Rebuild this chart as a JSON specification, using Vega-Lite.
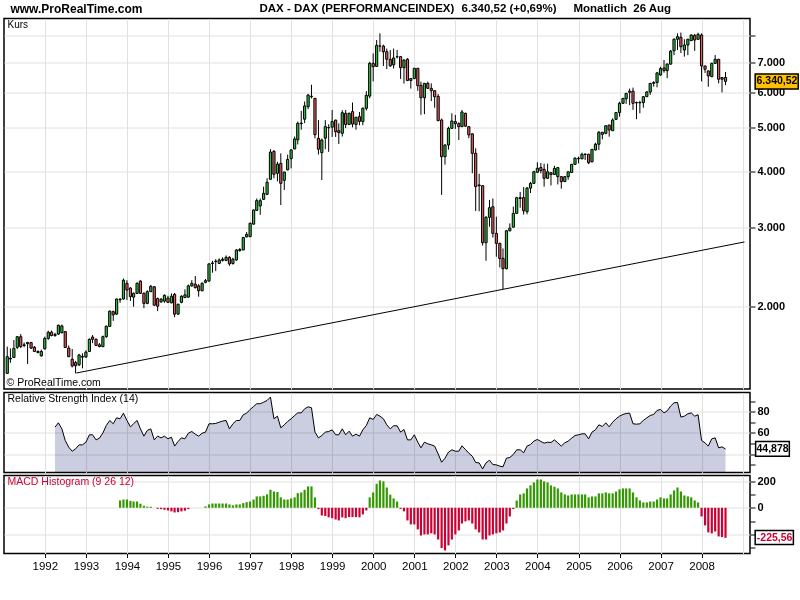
{"$schema":"https://vega.github.io/schema/vega-lite/v6.json","background":"white","padding":{"left":3,"top":1.5,"right":0,"bottom":0},"spacing":3,"bounds":"flush","config":{"font":"Liberation Sans","view":{"stroke":"black","strokeWidth":1.5},"axis":{"gridColor":"#e0e0e0","gridWidth":1,"tickColor":"black","domain":false,"labelColor":"black","title":null}},
"datasets":{"m":[
{"date":"1991-02-01","open":1421,"high":1630,"low":1421,"close":1548},
{"date":"1991-03-01","open":1530,"high":1615,"low":1500,"close":1535},
{"date":"1991-04-01","open":1542,"high":1686,"low":1540,"close":1615},
{"date":"1991-05-01","open":1624,"high":1720,"low":1610,"close":1715},
{"date":"1991-06-01","open":1715,"high":1738,"low":1618,"close":1630},
{"date":"1991-07-01","open":1640,"high":1665,"low":1625,"close":1645},
{"date":"1991-08-01","open":1655,"high":1670,"low":1492,"close":1665},
{"date":"1991-09-01","open":1664,"high":1670,"low":1610,"close":1618},
{"date":"1991-10-01","open":1625,"high":1635,"low":1585,"close":1590},
{"date":"1991-11-01","open":1590,"high":1600,"low":1575,"close":1582},
{"date":"1991-12-01","open":1555,"high":1605,"low":1548,"close":1590},
{"date":"1992-01-01","open":1612,"high":1715,"low":1605,"close":1700},
{"date":"1992-02-01","open":1700,"high":1768,"low":1688,"close":1755},
{"date":"1992-03-01","open":1755,"high":1770,"low":1718,"close":1725},
{"date":"1992-04-01","open":1725,"high":1750,"low":1715,"close":1735,"rsi":65.5},
{"date":"1992-05-01","open":1738,"high":1825,"low":1730,"close":1818,"rsi":69.6},
{"date":"1992-06-01","open":1750,"high":1825,"low":1745,"close":1812,"rsi":63.9},
{"date":"1992-07-01","open":1760,"high":1765,"low":1620,"close":1623,"rsi":52.9},
{"date":"1992-08-01","open":1618,"high":1640,"low":1545,"close":1548,"rsi":46.6},
{"date":"1992-09-01","open":1528,"high":1610,"low":1465,"close":1476,"rsi":42.8},
{"date":"1992-10-01","open":1502,"high":1515,"low":1421,"close":1478,"rsi":45},
{"date":"1992-11-01","open":1485,"high":1570,"low":1475,"close":1562,"rsi":48.8},
{"date":"1992-12-01","open":1545,"high":1575,"low":1458,"close":1550,"rsi":48.8},
{"date":"1993-01-01","open":1545,"high":1600,"low":1540,"close":1585,"rsi":51.3},
{"date":"1993-02-01","open":1590,"high":1700,"low":1588,"close":1692,"rsi":58.3},
{"date":"1993-03-01","open":1712,"high":1730,"low":1660,"close":1692,"rsi":58.3},
{"date":"1993-04-01","open":1692,"high":1700,"low":1635,"close":1640,"rsi":53.5},
{"date":"1993-05-01","open":1645,"high":1660,"low":1625,"close":1630,"rsi":55.1},
{"date":"1993-06-01","open":1630,"high":1725,"low":1625,"close":1715,"rsi":60},
{"date":"1993-07-01","open":1715,"high":1815,"low":1705,"close":1810,"rsi":67},
{"date":"1993-08-01","open":1808,"high":1960,"low":1805,"close":1955,"rsi":71.8},
{"date":"1993-09-01","open":1950,"high":1960,"low":1860,"close":1918,"rsi":68.7},
{"date":"1993-10-01","open":1925,"high":2085,"low":1920,"close":2080,"rsi":74.3},
{"date":"1993-11-01","open":2072,"high":2090,"low":2040,"close":2078,"rsi":73.4,"macd":55},
{"date":"1993-12-01","open":2080,"high":2310,"low":2075,"close":2290,"rsi":78.7,"macd":62},
{"date":"1994-01-01","open":2254,"high":2290,"low":2070,"close":2178,"rsi":71.8,"macd":62},
{"date":"1994-02-01","open":2200,"high":2210,"low":2060,"close":2105,"rsi":65.8,"macd":52},
{"date":"1994-03-01","open":2100,"high":2150,"low":2000,"close":2142,"rsi":68.7,"macd":47},
{"date":"1994-04-01","open":2140,"high":2265,"low":2135,"close":2254,"rsi":71.8,"macd":47},
{"date":"1994-05-01","open":2280,"high":2290,"low":2135,"close":2142,"rsi":63.9,"macd":30},
{"date":"1994-06-01","open":2142,"high":2150,"low":1985,"close":2034,"rsi":57,"macd":15},
{"date":"1994-07-01","open":2034,"high":2175,"low":2025,"close":2160,"rsi":62.4,"macd":8},
{"date":"1994-08-01","open":2160,"high":2235,"low":2155,"close":2220,"rsi":63.9,"macd":8},
{"date":"1994-09-01","open":2215,"high":2220,"low":2010,"close":2015,"rsi":53.5},
{"date":"1994-10-01","open":2085,"high":2095,"low":1955,"close":2005,"rsi":57,"macd":-8},
{"date":"1994-11-01","open":2050,"high":2090,"low":2040,"close":2078,"rsi":55.4,"macd":-10},
{"date":"1994-12-01","open":2058,"high":2130,"low":2040,"close":2120,"rsi":57,"macd":-15},
{"date":"1995-01-01","open":2090,"high":2115,"low":2040,"close":2045,"rsi":54.5,"macd":-20},
{"date":"1995-02-01","open":2040,"high":2140,"low":2035,"close":2110,"rsi":56,"macd":-27},
{"date":"1995-03-01","open":2130,"high":2145,"low":1895,"close":1925,"rsi":47.6,"macd":-35},
{"date":"1995-04-01","open":1925,"high":2030,"low":1920,"close":2025,"rsi":52,"macd":-33},
{"date":"1995-05-01","open":2045,"high":2120,"low":2035,"close":2110,"rsi":55.4,"macd":-27},
{"date":"1995-06-01","open":2095,"high":2185,"low":2090,"close":2125,"rsi":54.5,"macd":-22},
{"date":"1995-07-01","open":2100,"high":2240,"low":2095,"close":2225,"rsi":59.8,"macd":-10},
{"date":"1995-08-01","open":2225,"high":2290,"low":2215,"close":2254,"rsi":61.4},
{"date":"1995-09-01","open":2245,"high":2340,"low":2195,"close":2205,"rsi":58.9},
{"date":"1995-10-01","open":2225,"high":2245,"low":2105,"close":2170,"rsi":57},
{"date":"1995-11-01","open":2170,"high":2265,"low":2165,"close":2254,"rsi":59.8},
{"date":"1995-12-01","open":2265,"high":2305,"low":2255,"close":2285,"rsi":60.8,"macd":10},
{"date":"1996-01-01","open":2280,"high":2495,"low":2275,"close":2490,"rsi":68.7,"macd":25},
{"date":"1996-02-01","open":2495,"high":2530,"low":2380,"close":2502,"rsi":68.7,"macd":32},
{"date":"1996-03-01","open":2520,"high":2550,"low":2400,"close":2525,"rsi":69,"macd":32},
{"date":"1996-04-01","open":2497,"high":2560,"low":2490,"close":2540,"rsi":70.2,"macd":32},
{"date":"1996-05-01","open":2535,"high":2575,"low":2520,"close":2550,"rsi":71.2,"macd":32},
{"date":"1996-06-01","open":2535,"high":2600,"low":2525,"close":2575,"rsi":71.8,"macd":32},
{"date":"1996-07-01","open":2575,"high":2590,"low":2465,"close":2490,"rsi":63.9,"macd":25},
{"date":"1996-08-01","open":2495,"high":2570,"low":2480,"close":2550,"rsi":68.7,"macd":18},
{"date":"1996-09-01","open":2540,"high":2685,"low":2530,"close":2674,"rsi":71.8,"macd":25},
{"date":"1996-10-01","open":2665,"high":2700,"low":2650,"close":2680,"rsi":71.8,"macd":25},
{"date":"1996-11-01","open":2675,"high":2860,"low":2670,"close":2850,"rsi":77.2,"macd":35},
{"date":"1996-12-01","open":2860,"high":2930,"low":2850,"close":2895,"rsi":78.7,"macd":42},
{"date":"1997-01-01","open":2863,"high":3075,"low":2855,"close":3066,"rsi":82.2,"macd":47},
{"date":"1997-02-01","open":3052,"high":3290,"low":3045,"close":3281,"rsi":85,"macd":62},
{"date":"1997-03-01","open":3275,"high":3480,"low":3270,"close":3442,"rsi":87.6,"macd":85},
{"date":"1997-04-01","open":3350,"high":3480,"low":3200,"close":3442,"rsi":87.6,"macd":85},
{"date":"1997-05-01","open":3465,"high":3697,"low":3455,"close":3573,"rsi":89,"macd":90},
{"date":"1997-06-01","open":3555,"high":3860,"low":3545,"close":3782,"rsi":90.7,"macd":100},
{"date":"1997-07-01","open":3840,"high":4480,"low":3835,"close":4415,"rsi":93.9,"macd":135},
{"date":"1997-08-01","open":4430,"high":4460,"low":3860,"close":3940,"rsi":73.4,"macd":122},
{"date":"1997-09-01","open":3959,"high":4200,"low":3800,"close":4150,"rsi":75.9,"macd":118},
{"date":"1997-10-01","open":4166,"high":4385,"low":3365,"close":3761,"rsi":64.9,"macd":78},
{"date":"1997-11-01","open":3820,"high":3990,"low":3635,"close":3985,"rsi":67.7,"macd":62},
{"date":"1997-12-01","open":4030,"high":4355,"low":4020,"close":4250,"rsi":70.9,"macd":62},
{"date":"1998-01-01","open":4268,"high":4480,"low":4060,"close":4462,"rsi":73.4,"macd":70},
{"date":"1998-02-01","open":4485,"high":4780,"low":4480,"close":4720,"rsi":76.5,"macd":78},
{"date":"1998-03-01","open":4700,"high":5160,"low":4590,"close":5114,"rsi":79,"macd":110},
{"date":"1998-04-01","open":5105,"high":5450,"low":4950,"close":5120,"rsi":79,"macd":115},
{"date":"1998-05-01","open":5225,"high":5720,"low":5120,"close":5590,"rsi":82.8,"macd":135},
{"date":"1998-06-01","open":5570,"high":5945,"low":5500,"close":5910,"rsi":84.7,"macd":160},
{"date":"1998-07-01","open":5875,"high":6230,"low":5810,"close":5860,"rsi":83.8,"macd":160},
{"date":"1998-08-01","open":5810,"high":5830,"low":4735,"close":4825,"rsi":60.8,"macd":78},
{"date":"1998-09-01","open":4735,"high":5200,"low":4360,"close":4480,"rsi":55.4,"macd":-10},
{"date":"1998-10-01","open":4400,"high":4730,"low":3827,"close":4696,"rsi":57.6,"macd":-58},
{"date":"1998-11-01","open":4740,"high":5200,"low":4480,"close":5028,"rsi":60.8,"macd":-62},
{"date":"1998-12-01","open":5000,"high":5090,"low":4420,"close":5005,"rsi":61.4,"macd":-72},
{"date":"1999-01-01","open":5015,"high":5476,"low":4770,"close":5160,"rsi":63,"macd":-78},
{"date":"1999-02-01","open":5200,"high":5210,"low":4770,"close":4900,"rsi":58.3,"macd":-88},
{"date":"1999-03-01","open":4925,"high":5114,"low":4600,"close":4875,"rsi":58.3,"macd":-95},
{"date":"1999-04-01","open":4860,"high":5470,"low":4780,"close":5400,"rsi":63.9,"macd":-72},
{"date":"1999-05-01","open":5383,"high":5476,"low":4990,"close":5085,"rsi":58.3,"macd":-78},
{"date":"1999-06-01","open":5085,"high":5400,"low":5075,"close":5383,"rsi":61.7,"macd":-70},
{"date":"1999-07-01","open":5430,"high":5690,"low":5010,"close":5095,"rsi":57,"macd":-70},
{"date":"1999-08-01","open":5085,"high":5285,"low":4950,"close":5275,"rsi":58.9,"macd":-70},
{"date":"1999-09-01","open":5292,"high":5420,"low":5065,"close":5165,"rsi":57,"macd":-72},
{"date":"1999-10-01","open":5160,"high":5550,"low":5065,"close":5523,"rsi":63,"macd":-50},
{"date":"1999-11-01","open":5523,"high":6030,"low":5460,"close":5900,"rsi":67,"macd":-20},
{"date":"1999-12-01","open":5880,"high":7010,"low":5815,"close":6953,"rsi":74.3,"macd":78},
{"date":"2000-01-01","open":6953,"high":7318,"low":6340,"close":6835,"rsi":72.8,"macd":115},
{"date":"2000-02-01","open":6845,"high":7835,"low":6830,"close":7625,"rsi":77.5,"macd":180},
{"date":"2000-03-01","open":7600,"high":8107,"low":7380,"close":7598,"rsi":75.9,"macd":205},
{"date":"2000-04-01","open":7598,"high":7650,"low":6860,"close":7380,"rsi":73.4,"macd":198},
{"date":"2000-05-01","open":7380,"high":7500,"low":6750,"close":7100,"rsi":67.7,"macd":152},
{"date":"2000-06-01","open":7098,"high":7445,"low":6830,"close":6865,"rsi":63.9,"macd":98},
{"date":"2000-07-01","open":6900,"high":7500,"low":6770,"close":7147,"rsi":66.8,"macd":70},
{"date":"2000-08-01","open":7195,"high":7445,"low":7130,"close":7190,"rsi":66.8,"macd":47},
{"date":"2000-09-01","open":7195,"high":7210,"low":6420,"close":6800,"rsi":60.8,"macd":-8},
{"date":"2000-10-01","open":6800,"high":7090,"low":6270,"close":7073,"rsi":63.3,"macd":-27},
{"date":"2000-11-01","open":7100,"high":7140,"low":6350,"close":6370,"rsi":53.5,"macd":-95},
{"date":"2000-12-01","open":6370,"high":6450,"low":6110,"close":6430,"rsi":53.5,"macd":-125},
{"date":"2001-01-01","open":6430,"high":6790,"low":6420,"close":6780,"rsi":58.3,"macd":-125},
{"date":"2001-02-01","open":6780,"high":6790,"low":6040,"close":6200,"rsi":51.3,"macd":-162},
{"date":"2001-03-01","open":6210,"high":6330,"low":5342,"close":5830,"rsi":46,"macd":-208},
{"date":"2001-04-01","open":5830,"high":6285,"low":5360,"close":6276,"rsi":51.3,"macd":-200},
{"date":"2001-05-01","open":6276,"high":6330,"low":6110,"close":6118,"rsi":49.8,"macd":-200},
{"date":"2001-06-01","open":6118,"high":6276,"low":5730,"close":6045,"rsi":48.8,"macd":-192},
{"date":"2001-07-01","open":6045,"high":6050,"low":5540,"close":5862,"rsi":47.6,"macd":-200},
{"date":"2001-08-01","open":5872,"high":5945,"low":5170,"close":5185,"rsi":40.3,"macd":-238},
{"date":"2001-09-01","open":5202,"high":5240,"low":3545,"close":4312,"rsi":32.4,"macd":-302},
{"date":"2001-10-01","open":4312,"high":4590,"low":4140,"close":4578,"rsi":36.2,"macd":-320},
{"date":"2001-11-01","open":4578,"high":5028,"low":4470,"close":4985,"rsi":41.9,"macd":-282},
{"date":"2001-12-01","open":4985,"high":5383,"low":4975,"close":5175,"rsi":44.1,"macd":-238},
{"date":"2002-01-01","open":5160,"high":5340,"low":4970,"close":5105,"rsi":42.8,"macd":-200},
{"date":"2002-02-01","open":5105,"high":5140,"low":4696,"close":5028,"rsi":42.8,"macd":-170},
{"date":"2002-03-01","open":5028,"high":5476,"low":5020,"close":5420,"rsi":47.9,"macd":-118},
{"date":"2002-04-01","open":5383,"high":5400,"low":5030,"close":5040,"rsi":44.4,"macd":-102},
{"date":"2002-05-01","open":5028,"high":5040,"low":4740,"close":4820,"rsi":40.9,"macd":-95},
{"date":"2002-06-01","open":4845,"high":4860,"low":3960,"close":4386,"rsi":38.1,"macd":-118},
{"date":"2002-07-01","open":4386,"high":4500,"low":3265,"close":3698,"rsi":32.1,"macd":-162},
{"date":"2002-08-01","open":3715,"high":3950,"low":3260,"close":3730,"rsi":31.8,"macd":-185},
{"date":"2002-09-01","open":3715,"high":3725,"low":2735,"close":2775,"rsi":26.1,"macd":-238},
{"date":"2002-10-01","open":2775,"high":3180,"low":2530,"close":3160,"rsi":31.8,"macd":-238},
{"date":"2002-11-01","open":3160,"high":3453,"low":3012,"close":3320,"rsi":34.3,"macd":-208},
{"date":"2002-12-01","open":3337,"high":3480,"low":2850,"close":2911,"rsi":30.2,"macd":-200},
{"date":"2003-01-01","open":2911,"high":3171,"low":2583,"close":2766,"rsi":29.9,"macd":-192},
{"date":"2003-02-01","open":2766,"high":2775,"low":2445,"close":2560,"rsi":28.7,"macd":-185},
{"date":"2003-03-01","open":2561,"high":2695,"low":2188,"close":2430,"rsi":28,"macd":-170},
{"date":"2003-04-01","open":2430,"high":2960,"low":2420,"close":2950,"rsi":36.2,"macd":-118},
{"date":"2003-05-01","open":2950,"high":3064,"low":2940,"close":2990,"rsi":36.9,"macd":-65},
{"date":"2003-06-01","open":3005,"high":3337,"low":3000,"close":3225,"rsi":39.7,"macd":-10},
{"date":"2003-07-01","open":3225,"high":3510,"low":3215,"close":3495,"rsi":44.1,"macd":55},
{"date":"2003-08-01","open":3480,"high":3600,"low":3320,"close":3495,"rsi":44.1,"macd":100},
{"date":"2003-09-01","open":3495,"high":3690,"low":3205,"close":3268,"rsi":41.3,"macd":108},
{"date":"2003-10-01","open":3253,"high":3690,"low":3210,"close":3670,"rsi":47.6,"macd":145},
{"date":"2003-11-01","open":3670,"high":3790,"low":3580,"close":3761,"rsi":49.1,"macd":168},
{"date":"2003-12-01","open":3761,"high":4010,"low":3750,"close":3990,"rsi":52.3,"macd":190},
{"date":"2004-01-01","open":3980,"high":4190,"low":3970,"close":4062,"rsi":53.9,"macd":212},
{"date":"2004-02-01","open":4078,"high":4175,"low":3960,"close":4015,"rsi":52,"macd":212},
{"date":"2004-03-01","open":4040,"high":4160,"low":3698,"close":3860,"rsi":50.4,"macd":198},
{"date":"2004-04-01","open":3860,"high":4160,"low":3850,"close":3990,"rsi":51.3,"macd":190},
{"date":"2004-05-01","open":3935,"high":3985,"low":3720,"close":3972,"rsi":51,"macd":168},
{"date":"2004-06-01","open":3935,"high":4115,"low":3925,"close":4060,"rsi":53.5,"macd":158},
{"date":"2004-07-01","open":3892,"high":4090,"low":3740,"close":4076,"rsi":50.7,"macd":145},
{"date":"2004-08-01","open":3892,"high":3900,"low":3660,"close":3795,"rsi":47.6,"macd":115},
{"date":"2004-09-01","open":3795,"high":3905,"low":3785,"close":3892,"rsi":50.7,"macd":100},
{"date":"2004-10-01","open":3892,"high":4000,"low":3830,"close":3990,"rsi":52.3,"macd":92},
{"date":"2004-11-01","open":3975,"high":4155,"low":3965,"close":4145,"rsi":55.1,"macd":100},
{"date":"2004-12-01","open":4145,"high":4295,"low":4135,"close":4280,"rsi":57.6,"macd":100},
{"date":"2005-01-01","open":4265,"high":4312,"low":4167,"close":4275,"rsi":58.3,"macd":100},
{"date":"2005-02-01","open":4265,"high":4400,"low":4255,"close":4365,"rsi":59.2,"macd":100},
{"date":"2005-03-01","open":4360,"high":4390,"low":4240,"close":4365,"rsi":59.2,"macd":100},
{"date":"2005-04-01","open":4365,"high":4375,"low":4150,"close":4180,"rsi":54.5,"macd":78},
{"date":"2005-05-01","open":4200,"high":4485,"low":4190,"close":4475,"rsi":60.8,"macd":85},
{"date":"2005-06-01","open":4462,"high":4630,"low":4450,"close":4595,"rsi":63,"macd":85},
{"date":"2005-07-01","open":4595,"high":4915,"low":4462,"close":4885,"rsi":67.7,"macd":108},
{"date":"2005-08-01","open":4885,"high":4895,"low":4710,"close":4835,"rsi":66.1,"macd":108},
{"date":"2005-09-01","open":4859,"high":5065,"low":4835,"close":5050,"rsi":69.6,"macd":115},
{"date":"2005-10-01","open":5070,"high":5075,"low":4777,"close":4943,"rsi":65.8,"macd":108},
{"date":"2005-11-01","open":4925,"high":5245,"low":4915,"close":5202,"rsi":70.2,"macd":108},
{"date":"2005-12-01","open":5220,"high":5415,"low":5200,"close":5405,"rsi":73.4,"macd":122},
{"date":"2006-01-01","open":5405,"high":5710,"low":5292,"close":5666,"rsi":75.9,"macd":138},
{"date":"2006-02-01","open":5666,"high":5825,"low":5655,"close":5810,"rsi":77.5,"macd":145},
{"date":"2006-03-01","open":5800,"high":5975,"low":5650,"close":5963,"rsi":78.4,"macd":145},
{"date":"2006-04-01","open":5995,"high":6110,"low":5615,"close":6030,"rsi":78.7,"macd":145},
{"date":"2006-05-01","open":6030,"high":6140,"low":5480,"close":5666,"rsi":68.7,"macd":115},
{"date":"2006-06-01","open":5680,"high":5715,"low":5225,"close":5690,"rsi":68.3,"macd":78},
{"date":"2006-07-01","open":5680,"high":5740,"low":5383,"close":5690,"rsi":68.7,"macd":55},
{"date":"2006-08-01","open":5685,"high":5875,"low":5540,"close":5862,"rsi":71.8,"macd":40},
{"date":"2006-09-01","open":5862,"high":6035,"low":5850,"close":6005,"rsi":74.3,"macd":40},
{"date":"2006-10-01","open":6005,"high":6290,"low":5915,"close":6276,"rsi":76.5,"macd":47},
{"date":"2006-11-01","open":6276,"high":6345,"low":6170,"close":6305,"rsi":77.5,"macd":47},
{"date":"2006-12-01","open":6305,"high":6655,"low":6150,"close":6620,"rsi":81.3,"macd":62},
{"date":"2007-01-01","open":6550,"high":6835,"low":6520,"close":6770,"rsi":82.2,"macd":78},
{"date":"2007-02-01","open":6790,"high":7073,"low":6630,"close":6700,"rsi":79,"macd":70},
{"date":"2007-03-01","open":6700,"high":6945,"low":6445,"close":6930,"rsi":80.9,"macd":70},
{"date":"2007-04-01","open":6925,"high":7445,"low":6910,"close":7400,"rsi":85.4,"macd":100},
{"date":"2007-05-01","open":7415,"high":7905,"low":7250,"close":7865,"rsi":88.5,"macd":130},
{"date":"2007-06-01","open":7865,"high":8107,"low":7445,"close":7970,"rsi":88.8,"macd":152},
{"date":"2007-07-01","open":7945,"high":8140,"low":7330,"close":7572,"rsi":75,"macd":122},
{"date":"2007-08-01","open":7444,"high":7865,"low":7195,"close":7637,"rsi":75.9,"macd":92},
{"date":"2007-09-01","open":7637,"high":7880,"low":7250,"close":7865,"rsi":78.1,"macd":85},
{"date":"2007-10-01","open":7810,"high":8065,"low":7795,"close":8040,"rsi":79,"macd":78},
{"date":"2007-11-01","open":8025,"high":8080,"low":7415,"close":7835,"rsi":75.9,"macd":55},
{"date":"2007-12-01","open":7865,"high":8135,"low":7855,"close":8065,"rsi":77.2,"macd":40},
{"date":"2008-01-01","open":8040,"high":8107,"low":6340,"close":6860,"rsi":52.9,"macd":-65},
{"date":"2008-02-01","open":6860,"high":6870,"low":6620,"close":6745,"rsi":50.7,"macd":-132},
{"date":"2008-03-01","open":6690,"high":6700,"low":6170,"close":6520,"rsi":47.6,"macd":-185},
{"date":"2008-04-01","open":6494,"high":6975,"low":6480,"close":6953,"rsi":54.5,"macd":-192},
{"date":"2008-05-01","open":6953,"high":7255,"low":6930,"close":7100,"rsi":55.4,"macd":-178},
{"date":"2008-06-01","open":7100,"high":7110,"low":6276,"close":6410,"rsi":46,"macd":-215},
{"date":"2008-07-01","open":6410,"high":6480,"low":5990,"close":6465,"rsi":46.9,"macd":-220},
{"date":"2008-08-01","open":6470,"high":6650,"low":6220,"close":6340.52,"rsi":44.878,"macd":-225.56}
],
"trend":[{"date":"1992-10-08","value":1424},{"date":"2009-01-17","value":2786}],
"headBig":[{"date":"1991-03-01","value":9184,"label":"www.ProRealTime.com"}],
"headSmall":[{"date":"1997-03-25","value":9184,"label":"DAX - DAX (PERFORMANCEINDEX)"},{"date":"2002-02-25","value":9184,"label":"6.340,52 (+0,69%)"},{"date":"2004-11-17","value":9184,"label":"Monatlich"},{"date":"2006-05-03","value":9184,"label":"26 Aug"}],
"kurs":[{"date":"1991-02-03","value":8462,"label":"Kurs"}],
"copy":[{"date":"1991-01-25","value":1353,"label":"© ProRealTime.com"}],
"priceBox":[{"date":"2009-04-22","date2":"2010-05-10","value":6584,"value2":6097,"mid":"2009-11-02","center":6340,"label":"6.340,52"}],
"rsiBox":[{"date":"2009-04-26","date2":"2010-02-20","value":52,"value2":38.1,"mid":"2009-09-24","center":45,"label":"44,878"}],
"rsiName":[{"date":"1991-02-03","value":91.6,"label":"Relative Strength Index (14)"}],
"macdBox":[{"date":"2009-04-22","date2":"2010-03-28","value":-170,"value2":-275,"mid":"2009-10-12","center":-225,"label":"-225,56"}],
"macdName":[{"date":"1991-02-03","value":190,"label":"MACD Histogram (9 26 12)"}]
},
"vconcat":[
{"width":746,"height":370.5,"resolve":{"axis":{"y":"independent"}},
"encoding":{"x":{"field":"date","type":"temporal","scale":{"padding":0,"domain":[{"year":1991,"month":1,"date":3},{"year":2009,"month":3,"date":7}]},"axis":{"grid":true,"labels":false,"ticks":false,"tickCount":{"interval":"year","step":1},"title":null}}},
"layer":[
{"data":{"name":"m"},"mark":{"type":"rule","color":"black","strokeWidth":1},"encoding":{"y":{"field":"low","type":"quantitative","title":null,"scale":{"type":"log","domain":[1312,8748],"nice":false},"axis":{"orient":"right","values":[2000,3000,4000,5000,6000,7000,8000],"grid":true,"tickSize":5,"labelFontSize":11,"labelFontWeight":"bold","labelPadding":2,"labelExpr":"datum.value==8000?'':replace(format(datum.value,','),',','.')"}},"y2":{"field":"high"}}},
{"data":{"name":"m"},"mark":{"type":"bar","size":2.2,"stroke":"black","strokeWidth":1},"encoding":{"y":{"field":"open","type":"quantitative","title":null,"axis":null,"scale":{"type":"log","domain":[1312,8748],"nice":false}},"y2":{"field":"close"},"fill":{"condition":{"test":"datum.close>=datum.open","value":"#2fbf3f"},"value":"#e25c5c"}}},
{"data":{"name":"trend"},"mark":{"type":"line","color":"black","strokeWidth":1},"encoding":{"y":{"field":"value","type":"quantitative","title":null,"axis":null,"scale":{"type":"log","domain":[1312,8748],"nice":false}}}},
{"data":{"name":"headBig"},"mark":{"type":"text","align":"left","baseline":"middle","fontSize":12,"fontWeight":"bold"},"encoding":{"y":{"field":"value","type":"quantitative","title":null,"axis":null,"scale":{"type":"log","domain":[1312,8748],"nice":false}},"text":{"field":"label"}}},
{"data":{"name":"headSmall"},"mark":{"type":"text","align":"left","baseline":"middle","fontSize":11.5,"fontWeight":"bold"},"encoding":{"y":{"field":"value","type":"quantitative","title":null,"axis":null,"scale":{"type":"log","domain":[1312,8748],"nice":false}},"text":{"field":"label"}}},
{"data":{"name":"kurs"},"mark":{"type":"text","align":"left","baseline":"middle","fontSize":10},"encoding":{"y":{"field":"value","type":"quantitative","title":null,"axis":null,"scale":{"type":"log","domain":[1312,8748],"nice":false}},"text":{"field":"label"}}},
{"data":{"name":"copy"},"mark":{"type":"text","align":"left","baseline":"middle","fontSize":10.5},"encoding":{"y":{"field":"value","type":"quantitative","title":null,"axis":null,"scale":{"type":"log","domain":[1312,8748],"nice":false}},"text":{"field":"label"}}},
{"data":{"name":"priceBox"},"mark":{"type":"rect","fill":"#ffc000","stroke":"black","strokeWidth":1.5},"encoding":{"x2":{"field":"date2"},"y":{"field":"value","type":"quantitative","title":null,"axis":null,"scale":{"type":"log","domain":[1312,8748],"nice":false}},"y2":{"field":"value2"}}},
{"data":{"name":"priceBox"},"mark":{"type":"text","align":"center","baseline":"middle","fontSize":10.5,"fontWeight":"bold"},"encoding":{"x":{"field":"mid","type":"temporal"},"y":{"field":"center","type":"quantitative","title":null,"axis":null,"scale":{"type":"log","domain":[1312,8748],"nice":false}},"text":{"field":"label"}}}
]},
{"width":746,"height":80,"resolve":{"axis":{"y":"independent"}},
"encoding":{"x":{"field":"date","type":"temporal","scale":{"padding":0,"domain":[{"year":1991,"month":1,"date":3},{"year":2009,"month":3,"date":7}]},"axis":{"grid":true,"labels":false,"ticks":false,"tickCount":{"interval":"year","step":1},"title":null}}},
"layer":[
{"data":{"name":"m"},"mark":{"type":"area","fill":"#cbcde0","blend":"multiply"},"encoding":{"y":{"field":"rsi","type":"quantitative","title":null,"scale":{"domain":[22.7,98.2],"nice":false,"zero":false},"axis":{"orient":"right","values":[30,40,50,60,70,80,90],"grid":true,"gridOpacity":{"condition":{"test":"datum.value%20==0","value":1},"value":0},"tickSize":5,"labelFontSize":11,"labelFontWeight":"bold","labelPadding":2,"labelExpr":"datum.value==60||datum.value==80?datum.label:''"}},"y2":{"datum":22.7}}},
{"data":{"name":"m"},"mark":{"type":"line","color":"black","strokeWidth":1},"encoding":{"y":{"field":"rsi","type":"quantitative","title":null,"axis":null,"scale":{"domain":[22.7,98.2],"nice":false,"zero":false}}}},
{"data":{"name":"rsiName"},"mark":{"type":"text","align":"left","baseline":"middle","fontSize":10.5},"encoding":{"y":{"field":"value","type":"quantitative","title":null,"axis":null,"scale":{"domain":[22.7,98.2],"nice":false,"zero":false}},"text":{"field":"label"}}},
{"data":{"name":"rsiBox"},"mark":{"type":"rect","fill":"white","stroke":"black","strokeWidth":1.5},"encoding":{"x2":{"field":"date2"},"y":{"field":"value","type":"quantitative","title":null,"axis":null,"scale":{"domain":[22.7,98.2],"nice":false,"zero":false}},"y2":{"field":"value2"}}},
{"data":{"name":"rsiBox"},"mark":{"type":"text","align":"center","baseline":"middle","fontSize":10.5,"fontWeight":"bold"},"encoding":{"x":{"field":"mid","type":"temporal"},"y":{"field":"center","type":"quantitative","title":null,"axis":null,"scale":{"domain":[22.7,98.2],"nice":false,"zero":false}},"text":{"field":"label"}}}
]},
{"width":746,"height":78,"resolve":{"axis":{"y":"independent"}},
"encoding":{"x":{"field":"date","type":"temporal","scale":{"padding":0,"domain":[{"year":1991,"month":1,"date":3},{"year":2009,"month":3,"date":7}]},"axis":{"grid":true,"labels":true,"ticks":true,"tickSize":4,"tickOpacity":{"condition":{"test":"year(datum.value)<2009","value":1},"value":0},"labelFontSize":11.5,"labelPadding":3,"tickCount":{"interval":"year","step":1},"labelExpr":"year(datum.value)<2009?timeFormat(datum.value,'%Y'):''","title":null}}},
"layer":[
{"data":{"name":"m"},"mark":{"type":"bar","size":2.2},"encoding":{"y":{"field":"macd","type":"quantitative","title":null,"scale":{"domain":[-343,242],"nice":false},"axis":{"orient":"right","values":[-300,-200,-100,0,100,200],"grid":true,"gridOpacity":{"condition":{"test":"datum.value%200==0","value":1},"value":0},"tickSize":5,"labelFontSize":11,"labelFontWeight":"bold","labelPadding":2,"labelExpr":"datum.value==200||datum.value==0?datum.label:''"}},"fill":{"condition":{"test":"datum.macd>=0","value":"#339900"},"value":"#cc0033"}}},
{"data":{"name":"macdName"},"mark":{"type":"text","align":"left","baseline":"middle","fontSize":10.5,"fill":"#cc0033"},"encoding":{"y":{"field":"value","type":"quantitative","title":null,"axis":null,"scale":{"domain":[-343,242],"nice":false}},"text":{"field":"label"}}},
{"data":{"name":"macdBox"},"mark":{"type":"rect","fill":"white","stroke":"black","strokeWidth":1.5},"encoding":{"x2":{"field":"date2"},"y":{"field":"value","type":"quantitative","title":null,"axis":null,"scale":{"domain":[-343,242],"nice":false}},"y2":{"field":"value2"}}},
{"data":{"name":"macdBox"},"mark":{"type":"text","align":"center","baseline":"middle","fontSize":10.5,"fontWeight":"bold","fill":"#cc0033"},"encoding":{"x":{"field":"mid","type":"temporal"},"y":{"field":"center","type":"quantitative","title":null,"axis":null,"scale":{"domain":[-343,242],"nice":false}},"text":{"field":"label"}}}
]}
]}
